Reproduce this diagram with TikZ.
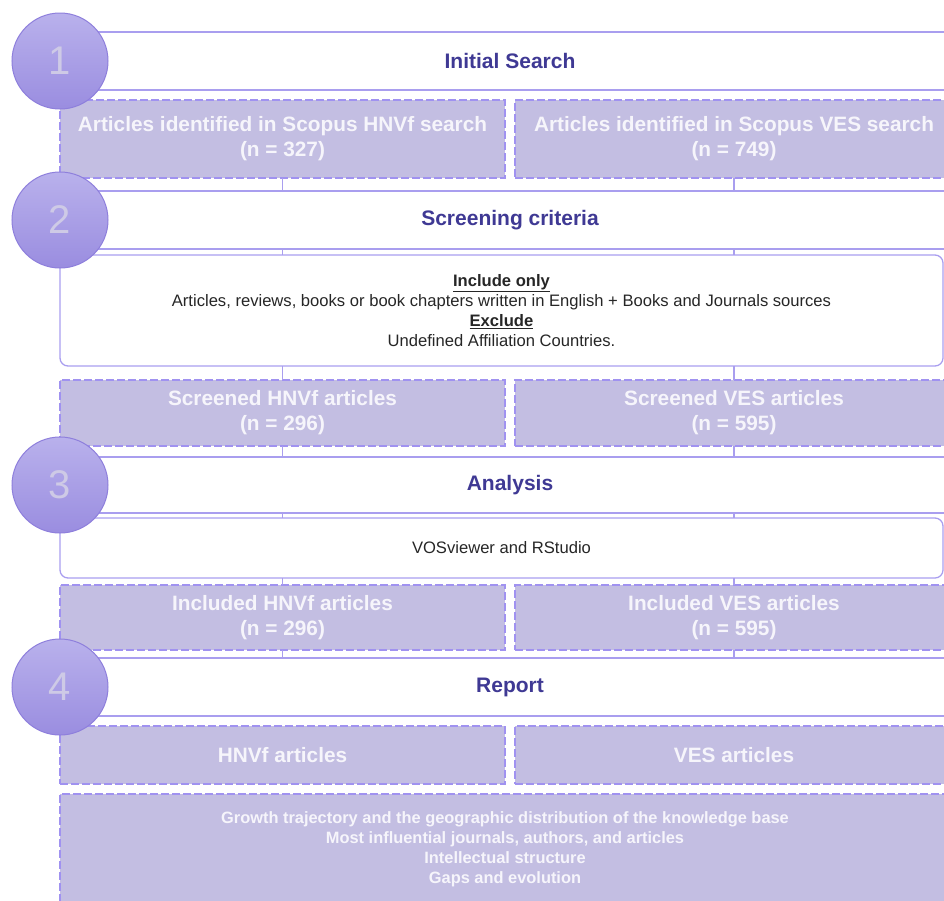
\documentclass[tikz,border=0pt]{standalone}
\usepackage{fontspec}
\setmainfont{Liberation Sans}
\usetikzlibrary{positioning}
\definecolor{bandline}{HTML}{A99EEF}
\definecolor{bandtext}{HTML}{3F3994}
\definecolor{boxfill}{HTML}{C3BEE2}
\definecolor{boxdash}{HTML}{A092F0}
\definecolor{boxtext}{HTML}{F6F5FB}
\definecolor{dottop}{HTML}{B9B1EC}
\definecolor{dotbot}{HTML}{9A8DE0}
\definecolor{dotline}{HTML}{8E7FDC}
\definecolor{numtext}{HTML}{CECAE6}
\definecolor{bodytext}{HTML}{262626}
\tikzset{
  band/.style     = {draw=bandline, line width=1.3pt, fill=white, inner sep=0pt, outer sep=0pt,
                     minimum width=900pt, minimum height=58pt, text=bandtext,
                     font=\fontsize{21}{24}\selectfont\bfseries},
  critbox/.style  = {draw=bandline, line width=1.3pt, rounded corners=8pt, inner sep=0pt,
                     outer sep=0pt, minimum width=883pt, align=center, text=bodytext,
                     font=\fontsize{16.6}{20}\selectfont},
  artbox/.style   = {draw=boxdash, line width=1.3pt, dash pattern=on 8pt off 3pt,
                     fill=boxfill, inner sep=0pt, outer sep=0pt, align=center, text=boxtext,
                     font=\fontsize{20.8}{25}\selectfont\bfseries},
  leftbox/.style  = {artbox, minimum width=445pt},
  rightbox/.style = {artbox, minimum width=438pt},
  stepdot/.style  = {circle, draw=dotline, line width=1pt, top color=dottop,
                     bottom color=dotbot, minimum size=96pt, inner sep=0pt,
                     text=numtext, font=\fontsize{40}{40}\selectfont},
  link/.style     = {draw=bandline, line width=1.3pt}
}

\begin{document}
\begin{tikzpicture}[x=1pt, y=-1pt]
    \useasboundingbox (0,0) rectangle (944,900);
    \clip (0,0) rectangle (944,900);

    % stage 1
    \node[band, anchor=north west] (search) at (60,32) {Initial Search};
    \node[leftbox, minimum height=78pt, below=10pt of search.south west, anchor=north west] (idhnvf)
        {Articles identified in Scopus HNVf search\\(n = 327)};
    \node[rightbox, minimum height=78pt, right=10pt of idhnvf] (idves)
        {Articles identified in Scopus VES search\\(n = 749)};

    % stage 2
    \node[band, below=13pt of idhnvf.south west, anchor=north west] (screen) {Screening criteria};
    \node[critbox, minimum height=111pt, below=6pt of screen.south west, anchor=north west] (criteria)
        {\underline{\textbf{Include only}}\\
         Articles, reviews, books or book chapters written in English + Books and Journals sources\\
         \underline{\textbf{Exclude}}\\
         Undefined Affiliation Countries.};
    \node[leftbox, minimum height=66pt, below=14pt of criteria.south west, anchor=north west] (scrhnvf)
        {Screened HNVf articles\\(n = 296)};
    \node[rightbox, minimum height=66pt, right=10pt of scrhnvf] (scrves)
        {Screened VES articles\\(n = 595)};

    % stage 3
    \node[band, minimum height=56pt, below=11pt of scrhnvf.south west, anchor=north west] (analysis) {Analysis};
    \node[critbox, minimum height=60pt, below=5pt of analysis.south west, anchor=north west] (tools)
        {VOSviewer and RStudio};
    \node[leftbox, minimum height=65pt, below=7pt of tools.south west, anchor=north west] (inchnvf)
        {Included HNVf articles\\(n = 296)};
    \node[rightbox, minimum height=65pt, right=10pt of inchnvf] (incves)
        {Included VES articles\\(n = 595)};

    % stage 4
    \node[band, below=8pt of inchnvf.south west, anchor=north west] (report) {Report};
    \node[leftbox, minimum height=58pt, below=10pt of report.south west, anchor=north west] (rephnvf)
        {HNVf articles};
    \node[rightbox, minimum height=58pt, right=10pt of rephnvf] (repves) {VES articles};
    \node[artbox, minimum width=890pt, minimum height=111pt, font=\fontsize{16.4}{20}\selectfont\bfseries,
          below=10pt of rephnvf.south west, anchor=north west] (findings)
        {Growth trajectory and the geographic distribution of the knowledge base\\
         Most influential journals, authors, and articles\\
         Intellectual structure\\
         Gaps and evolution};

    % links
    \foreach \a/\b in {idhnvf/screen, idves/screen, scrhnvf/analysis, scrves/analysis,
                       inchnvf/report, incves/report} {
        \draw[link] (\a.south) -- (\a.south |- \b.north);
    }
    \foreach \a/\b in {screen/criteria, criteria/scrhnvf, analysis/tools, tools/inchnvf} {
        \draw[link] (\a.south -| idhnvf) -- (\b.north -| idhnvf);
        \draw[link] (\a.south -| idves) -- (\b.north -| idves);
    }

    % step numbers
    \node[stepdot] (one) at (search.west) {1};
    \node[stepdot] (two) at (screen.west) {2};
    \node[stepdot] (three) at (analysis.west) {3};
    \node[stepdot] (four) at (report.west) {4};
\end{tikzpicture}
\end{document}
